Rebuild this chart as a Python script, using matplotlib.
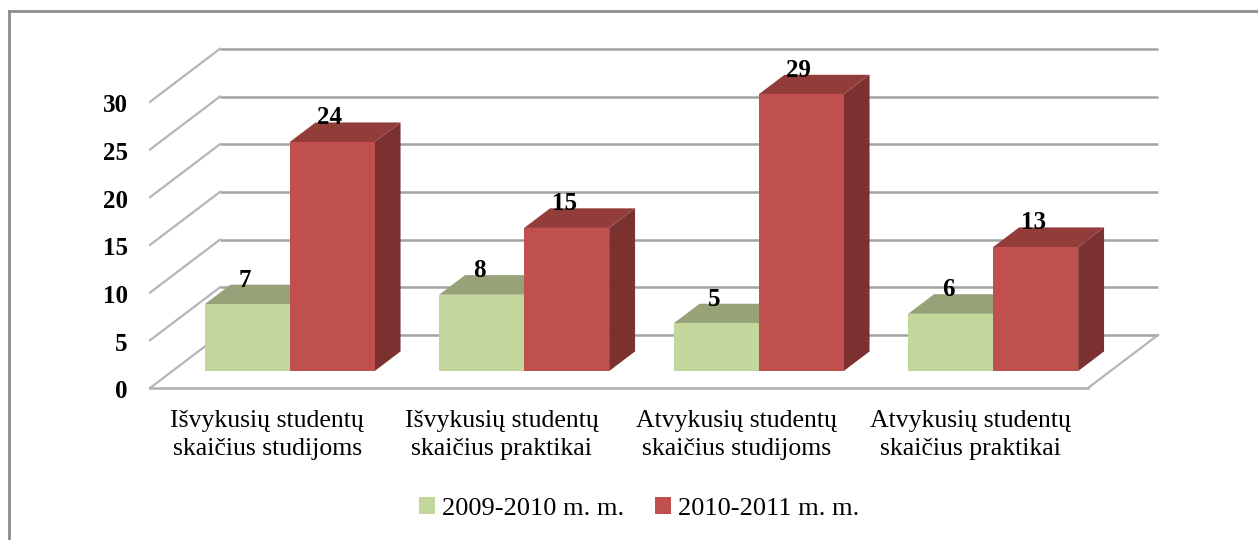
import matplotlib
matplotlib.use("Agg")
import matplotlib.pyplot as plt
from matplotlib.patches import Polygon, Patch
from matplotlib.lines import Line2D

categories = ["Išvykusių studentų\nskaičius studijoms",
              "Išvykusių studentų\nskaičius praktikai",
              "Atvykusių studentų\nskaičius studijoms",
              "Atvykusių studentų\nskaičius praktikai"]
series_names = ["2009-2010 m. m.", "2010-2011 m. m."]
vals_2009 = [7, 8, 5, 6]
vals_2010 = [24, 15, 29, 13]
y_ticks = [0, 5, 10, 15, 20, 25, 30]

# colours: front, top, side
green = ("#C3D69B", "#97A279", "#7E8A5E")
red = ("#C0504D", "#933D3B", "#7B3130")

plt.rcParams["font.family"] = ["Liberation Serif", "DejaVu Serif"]

W, H = 1258, 540
fig = plt.figure(figsize=(W / 100, H / 100), dpi=100)
ax = fig.add_axes([0, 0, 1, 1])

# pixel layout of the floor / wall (used only to set the axes limits)
x0_px, cat_px = 150, 234.5
y0_px, unit_px = 388, 9.54
ax.set_xlim(-x0_px / cat_px, (W - x0_px) / cat_px)
ax.set_ylim(-(H - y0_px) / unit_px, y0_px / unit_px)
ax.axis("off")

DX = 70 / cat_px   # depth offset in category units
DY = 53 / unit_px  # depth offset in value units
n = len(categories)


def proj(x, y, d):
    return (x + d * DX, y + d * DY)


# back wall gridlines and left wall diagonals
for v in y_ticks:
    ax.plot(*zip(proj(0, v, 1), proj(n, v, 1)), color="#a3a3a3", lw=1.8, zorder=1,
            solid_capstyle="butt")
    ax.plot(*zip(proj(0, v, 0), proj(0, v, 1)), color="#b5b5b5", lw=1.6, zorder=1)
    ax.text(-0.095, v - 0.4, str(v), ha="right", va="center", fontsize=18,
            fontweight="bold")

# floor front edge and right edge
ax.plot(*zip(proj(0, 0, 0), proj(n, 0, 0)), color="#b0b0b0", lw=1.8, zorder=1)
ax.plot(*zip(proj(n, 0, 0), proj(n, 0, 1)), color="#b5b5b5", lw=1.6, zorder=1)

bw = 85 / cat_px
d0, d1 = 0.32, 0.69


def bar(xl, v, cols, z):
    xr = xl + bw
    front = [proj(xl, 0, d0), proj(xr, 0, d0), proj(xr, v, d0), proj(xl, v, d0)]
    top = [proj(xl, v, d0), proj(xr, v, d0), proj(xr, v, d1), proj(xl, v, d1)]
    side = [proj(xr, 0, d0), proj(xr, 0, d1), proj(xr, v, d1), proj(xr, v, d0)]
    ax.add_patch(Polygon(side, closed=True, fc=cols[2], ec="none", zorder=z))
    ax.add_patch(Polygon(top, closed=True, fc=cols[1], ec="none", zorder=z))
    ax.add_patch(Polygon(front, closed=True, fc=cols[0], ec="none", zorder=z))
    cx, _ = proj(xl + bw / 2, v, d0)
    _, ty = proj(xl, v, d1)
    ax.text(cx - 0.01, ty - 0.2, str(v), ha="center", va="baseline", fontsize=18,
            fontweight="bold", zorder=z + 1)


for i in range(n):
    c = i + 0.5
    bar(c - bw, vals_2009[i], green, 2 + 2 * i)
    bar(c, vals_2010[i], red, 3 + 2 * i)
    ax.text(c, -2.35, categories[i], ha="center", va="top", fontsize=18.5,
            linespacing=1.3)

handles = [Patch(fc=green[0], ec="none"), Patch(fc=red[0], ec="none")]
fig.legend(handles, series_names, loc="center", bbox_to_anchor=(0.508, 0.058),
           ncol=2, frameon=False, fontsize=19, handlelength=0.6, handleheight=0.6,
           handletextpad=0.25, columnspacing=1.2)

# chart border (top and left visible)
fig.add_artist(Line2D([9 / W, 1], [1 - 11 / H, 1 - 11 / H], color="#8c8c8c", lw=2))
fig.add_artist(Line2D([9 / W, 9 / W], [0, 1 - 11 / H], color="#8c8c8c", lw=2))

fig.savefig("out.png", dpi=100)
